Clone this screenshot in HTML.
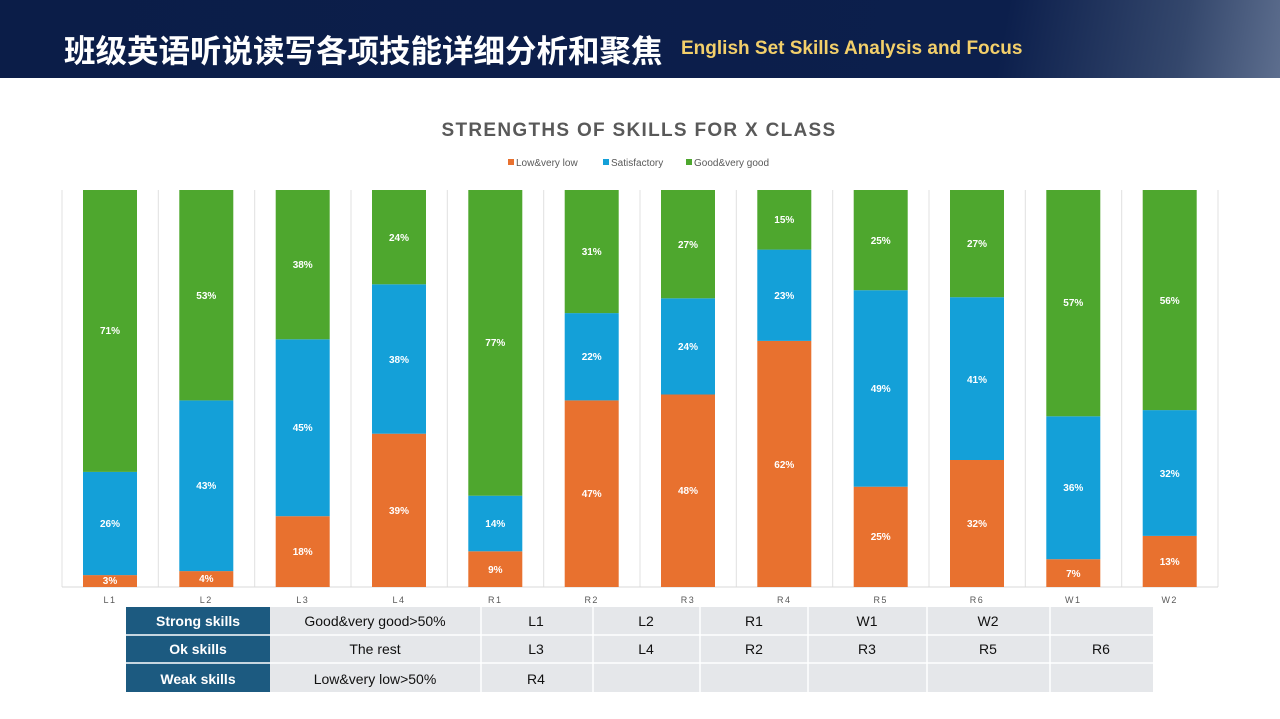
<!DOCTYPE html>
<html><head><meta charset="utf-8"><style>
body{margin:0;width:1280px;height:719px;overflow:hidden;background:#fff;font-family:"Liberation Sans","Noto Sans CJK SC",sans-serif;}
.hdr{position:absolute;left:0;top:0;width:1280px;height:78px;background:linear-gradient(100deg,#0b1d48 0%,#0c1f4c 78%,#34476c 92%,#5d6e8e 100%);}
.hdr .cn{position:absolute;left:64px;top:26px;color:#fff;font-size:31.5px;font-weight:bold;font-family:"Liberation Sans","Noto Sans CJK SC",sans-serif;letter-spacing:0px;white-space:nowrap;}
.hdr .en{position:absolute;left:681px;top:38px;color:#f3cf6a;font-size:19px;font-weight:bold;white-space:nowrap;}
</style></head><body>
<div class="hdr"><span class="cn">班级英语听说读写各项技能详细分析和聚焦</span><span class="en">English Set Skills Analysis and Focus</span></div>
<svg width="1280" height="719" style="position:absolute;left:0;top:0" font-family="Liberation Sans, sans-serif">
<text x="639" y="136" text-anchor="middle" font-size="19" font-weight="bold" fill="#595959" letter-spacing="1.3">STRENGTHS OF SKILLS FOR X CLASS</text>
<g font-size="10" fill="#595959">
<rect x="508" y="159" width="6" height="6" fill="#e8712f"/><text x="516" y="166">Low&amp;very low</text>
<rect x="603" y="159" width="6" height="6" fill="#14a0d8"/><text x="611" y="166">Satisfactory</text>
<rect x="686" y="159" width="6" height="6" fill="#4ea72e"/><text x="694" y="166">Good&amp;very good</text>
</g>
<g stroke="#e0e0e0" stroke-width="1">
<line x1="62" y1="190" x2="62" y2="587"/><line x1="158.3" y1="190" x2="158.3" y2="587"/><line x1="254.7" y1="190" x2="254.7" y2="587"/><line x1="351" y1="190" x2="351" y2="587"/><line x1="447.3" y1="190" x2="447.3" y2="587"/><line x1="543.7" y1="190" x2="543.7" y2="587"/><line x1="640" y1="190" x2="640" y2="587"/><line x1="736.3" y1="190" x2="736.3" y2="587"/><line x1="832.7" y1="190" x2="832.7" y2="587"/><line x1="929" y1="190" x2="929" y2="587"/><line x1="1025.3" y1="190" x2="1025.3" y2="587"/><line x1="1121.7" y1="190" x2="1121.7" y2="587"/><line x1="1218" y1="190" x2="1218" y2="587"/>
<line x1="62" y1="587" x2="1218" y2="587" stroke="#d9d9d9"/>
</g>
<g>
<rect x="83" y="575.1" width="54" height="11.9" fill="#e8712f"/><rect x="83" y="471.9" width="54" height="103.2" fill="#14a0d8"/><rect x="83" y="190" width="54" height="281.9" fill="#4ea72e"/>
<rect x="179.3" y="571.1" width="54" height="15.9" fill="#e8712f"/><rect x="179.3" y="400.4" width="54" height="170.7" fill="#14a0d8"/><rect x="179.3" y="190" width="54" height="210.4" fill="#4ea72e"/>
<rect x="275.7" y="516.2" width="54" height="70.8" fill="#e8712f"/><rect x="275.7" y="339.3" width="54" height="176.9" fill="#14a0d8"/><rect x="275.7" y="190" width="54" height="149.3" fill="#4ea72e"/>
<rect x="372" y="433.7" width="54" height="153.3" fill="#e8712f"/><rect x="372" y="284.3" width="54" height="149.4" fill="#14a0d8"/><rect x="372" y="190" width="54" height="94.3" fill="#4ea72e"/>
<rect x="468.3" y="551.3" width="54" height="35.7" fill="#e8712f"/><rect x="468.3" y="495.7" width="54" height="55.6" fill="#14a0d8"/><rect x="468.3" y="190" width="54" height="305.7" fill="#4ea72e"/>
<rect x="564.7" y="400.4" width="54" height="186.6" fill="#e8712f"/><rect x="564.7" y="313.1" width="54" height="87.3" fill="#14a0d8"/><rect x="564.7" y="190" width="54" height="123.1" fill="#4ea72e"/>
<rect x="661" y="394.5" width="54" height="192.5" fill="#e8712f"/><rect x="661" y="298.3" width="54" height="96.2" fill="#14a0d8"/><rect x="661" y="190" width="54" height="108.3" fill="#4ea72e"/>
<rect x="757.3" y="340.9" width="54" height="246.1" fill="#e8712f"/><rect x="757.3" y="249.6" width="54" height="91.3" fill="#14a0d8"/><rect x="757.3" y="190" width="54" height="59.6" fill="#4ea72e"/>
<rect x="853.7" y="486.7" width="54" height="100.3" fill="#e8712f"/><rect x="853.7" y="290.2" width="54" height="196.5" fill="#14a0d8"/><rect x="853.7" y="190" width="54" height="100.2" fill="#4ea72e"/>
<rect x="950" y="460" width="54" height="127" fill="#e8712f"/><rect x="950" y="297.2" width="54" height="162.8" fill="#14a0d8"/><rect x="950" y="190" width="54" height="107.2" fill="#4ea72e"/>
<rect x="1046.3" y="559.2" width="54" height="27.8" fill="#e8712f"/><rect x="1046.3" y="416.3" width="54" height="142.9" fill="#14a0d8"/><rect x="1046.3" y="190" width="54" height="226.3" fill="#4ea72e"/>
<rect x="1142.7" y="535.9" width="54" height="51.1" fill="#e8712f"/><rect x="1142.7" y="410.1" width="54" height="125.8" fill="#14a0d8"/><rect x="1142.7" y="190" width="54" height="220.1" fill="#4ea72e"/>
</g>
<g font-size="10" font-weight="bold" fill="#fff" text-anchor="middle">
<text x="110" y="584">3%</text><text x="110" y="527">26%</text><text x="110" y="334">71%</text>
<text x="206.3" y="582">4%</text><text x="206.3" y="489">43%</text><text x="206.3" y="299">53%</text>
<text x="302.7" y="555">18%</text><text x="302.7" y="431">45%</text><text x="302.7" y="268">38%</text>
<text x="399" y="514">39%</text><text x="399" y="363">38%</text><text x="399" y="241">24%</text>
<text x="495.3" y="573">9%</text><text x="495.3" y="527">14%</text><text x="495.3" y="346">77%</text>
<text x="591.7" y="497">47%</text><text x="591.7" y="360">22%</text><text x="591.7" y="255">31%</text>
<text x="688" y="494">48%</text><text x="688" y="350">24%</text><text x="688" y="248">27%</text>
<text x="784.3" y="468">62%</text><text x="784.3" y="299">23%</text><text x="784.3" y="223">15%</text>
<text x="880.7" y="540">25%</text><text x="880.7" y="392">49%</text><text x="880.7" y="244">25%</text>
<text x="977" y="527">32%</text><text x="977" y="383">41%</text><text x="977" y="247">27%</text>
<text x="1073.3" y="577">7%</text><text x="1073.3" y="491">36%</text><text x="1073.3" y="306">57%</text>
<text x="1169.7" y="565">13%</text><text x="1169.7" y="477">32%</text><text x="1169.7" y="304">56%</text>
</g>
<g font-size="9" fill="#595959" text-anchor="middle" letter-spacing="1.5">
<text x="110" y="603">L1</text><text x="206.3" y="603">L2</text><text x="302.7" y="603">L3</text><text x="399" y="603">L4</text><text x="495.3" y="603">R1</text><text x="591.7" y="603">R2</text><text x="688" y="603">R3</text><text x="784.3" y="603">R4</text><text x="880.7" y="603">R5</text><text x="977" y="603">R6</text><text x="1073.3" y="603">W1</text><text x="1169.7" y="603">W2</text>
</g>
<rect x="126" y="607" width="1027" height="85" fill="#e5e7ea"/>
<rect x="126" y="607" width="144" height="85" fill="#1c5a80"/>
<g stroke="#fff" stroke-width="1.5">
<line x1="126" y1="635" x2="1153" y2="635"/><line x1="126" y1="663" x2="1153" y2="663"/>
<line x1="481" y1="607" x2="481" y2="692"/><line x1="593" y1="607" x2="593" y2="692"/><line x1="700" y1="607" x2="700" y2="692"/><line x1="808" y1="607" x2="808" y2="692"/><line x1="927" y1="607" x2="927" y2="692"/><line x1="1050" y1="607" x2="1050" y2="692"/>
</g>
<g font-size="14" text-anchor="middle">
<g fill="#fff" font-weight="bold"><text x="198" y="626">Strong skills</text><text x="198" y="654">Ok skills</text><text x="198" y="684">Weak skills</text></g>
<g fill="#111">
<text x="375" y="626">Good&amp;very good&gt;50%</text><text x="375" y="654">The rest</text><text x="375" y="684">Low&amp;very low&gt;50%</text>
<text x="536" y="626">L1</text><text x="646" y="626">L2</text><text x="754" y="626">R1</text><text x="867" y="626">W1</text><text x="988" y="626">W2</text>
<text x="536" y="654">L3</text><text x="646" y="654">L4</text><text x="754" y="654">R2</text><text x="867" y="654">R3</text><text x="988" y="654">R5</text><text x="1101" y="654">R6</text>
<text x="536" y="684">R4</text>
</g></g>
</svg>
</body></html>
